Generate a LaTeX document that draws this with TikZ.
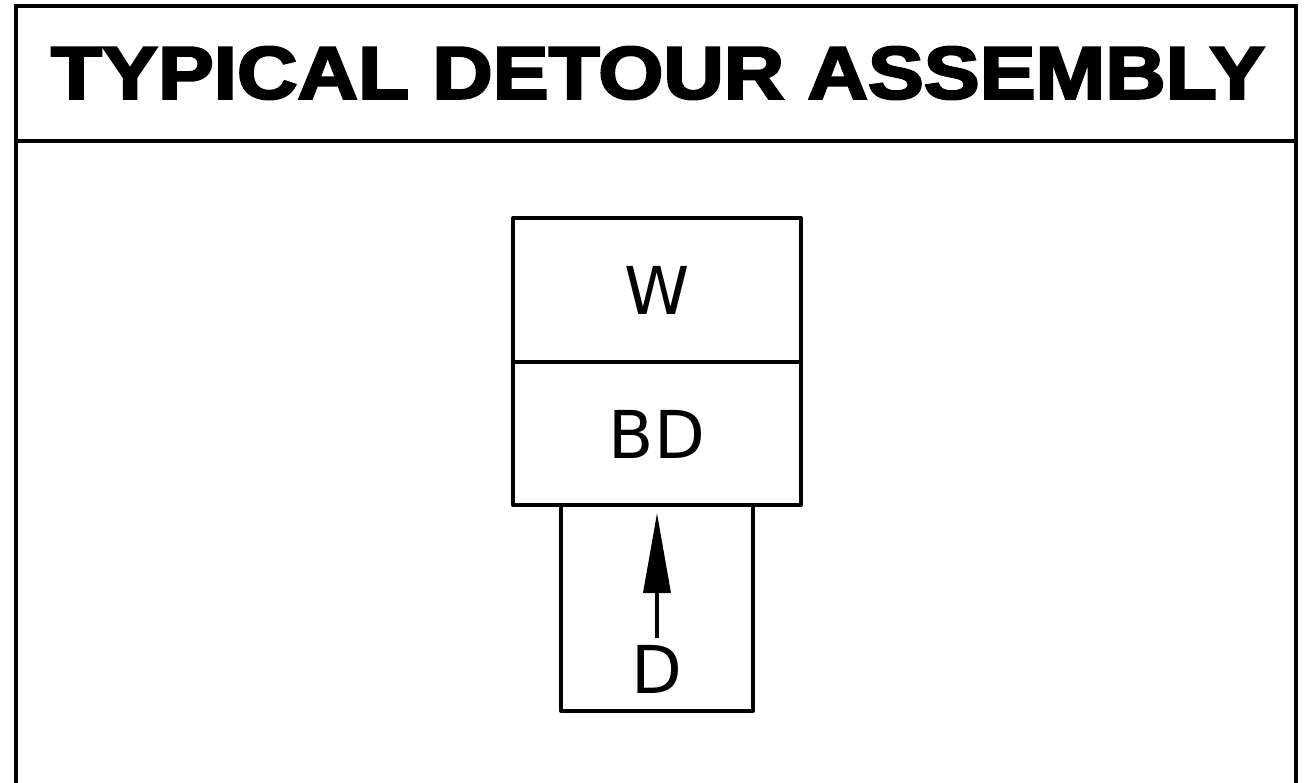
\documentclass[tikz,border=0pt]{standalone}
\usepackage{fontspec}
\setmainfont{DejaVu Sans}
\newfontfamily\titlefont[FakeBold=3]{Liberation Sans}
\usetikzlibrary{arrows.meta}
\begin{document}
\begin{tikzpicture}[x=1pt,y=-1pt,
  frame/.style={line width=3.5pt},
  boxline/.style={line width=4pt,line cap=round,line join=round},
  lbl/.style={inner sep=0pt,anchor=center,font=\fontsize{66}{66}\selectfont},
  arr/.style={line width=3.5pt,-{Triangle[length=80pt,width=27pt]}}]
\useasboundingbox (0,0) rectangle (1305,782);
\fill[white] (0,0) rectangle (1305,782);
% frame
\draw[frame] (16,790) -- (16,6) -- (1296,6) -- (1296,790);
\draw[frame] (16,141) -- (1296,141);
\node[inner sep=0pt] (title) at (658,73) {\resizebox{1214pt}{52pt}{\titlefont\bfseries TYPICAL DETOUR ASSEMBLY}};
% boxes
\draw[boxline] (513,218) rectangle (801,505);
\draw[boxline] (513,362) -- (801,362);
\draw[boxline] (561,505) -- (561,711) -- (753,711) -- (753,505);
\node[lbl] (w) at (657,290) {W};
\node[lbl] (bd) at (657,434) {BD};
\node[lbl,anchor=base] (d) at (657,693) {D};
\coordinate (tail) at (657,638);
\coordinate (tip) at (657,513);
\draw[arr] (tail) -- (tip);
\end{tikzpicture}
\end{document}
